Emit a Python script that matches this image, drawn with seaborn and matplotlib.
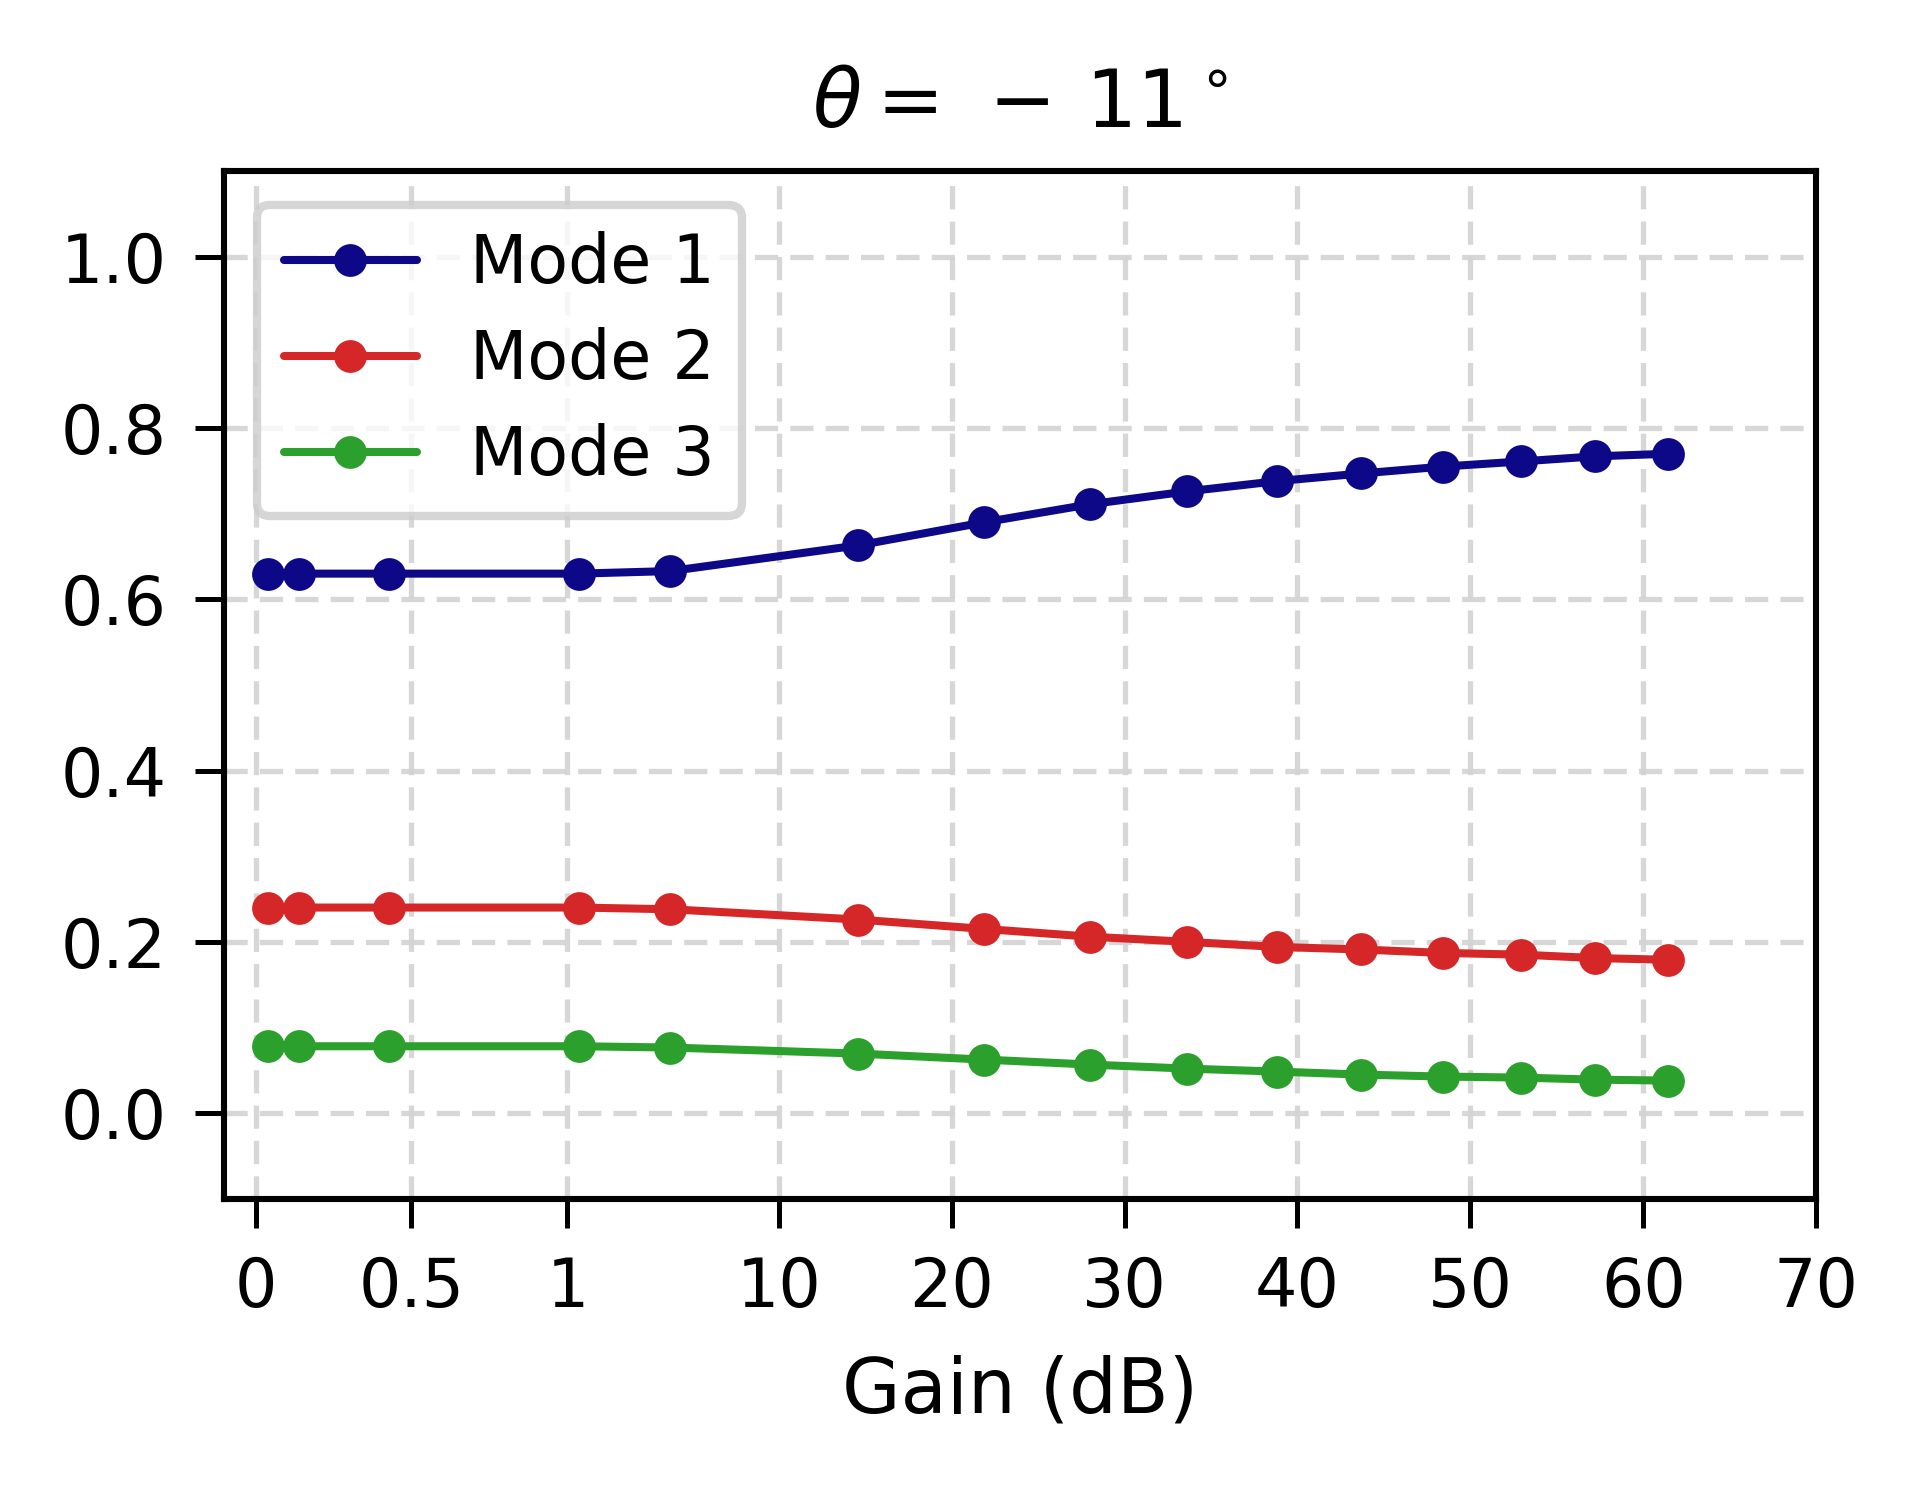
import numpy as np
import pandas as pd
import matplotlib
matplotlib.use("Agg")
import matplotlib.pyplot as plt
import seaborn as sns
from matplotlib.lines import Line2D

# ---- data ----
gain_db = [0.04, 0.14, 0.43, 1.48, 5.39, 14.6, 21.9, 28.0, 33.6, 38.8, 43.7, 48.4, 52.9, 57.2, 61.4]
mode1 = [0.630, 0.630, 0.630, 0.630, 0.633, 0.663, 0.690, 0.711, 0.726, 0.738, 0.747, 0.755, 0.761, 0.767, 0.770]
mode2 = [0.240, 0.240, 0.240, 0.240, 0.238, 0.226, 0.215, 0.206, 0.200, 0.194, 0.191, 0.187, 0.185, 0.181, 0.179]
mode3 = [0.078, 0.078, 0.078, 0.078, 0.0765, 0.0694, 0.0624, 0.0566, 0.0519, 0.0484, 0.0449, 0.0426, 0.0414, 0.039, 0.0379]
mode_names = ["Mode 1", "Mode 2", "Mode 3"]
colors = ["#0d0887", "#d62728", "#2ca02c"]
xticks = [0, 0.5, 1, 10, 20, 30, 40, 50, 60, 70]
xticklabels = ["0", "0.5", "1", "10", "20", "30", "40", "50", "60", "70"]
yticks = [0.0, 0.2, 0.4, 0.6, 0.8, 1.0]

df = pd.DataFrame({
    "gain": gain_db * 3,
    "value": mode1 + mode2 + mode3,
    "mode": [m for m in mode_names for _ in gain_db],
})

# piecewise-linear x scale
XB = np.array([0.0, 0.5, 1.0, 10.0, 70.0])
PB = np.array([0.0, 0.898, 1.800, 3.020, 9.014])
s0 = (PB[1] - PB[0]) / (XB[1] - XB[0])
s1 = (PB[-1] - PB[-2]) / (XB[-1] - XB[-2])

def fwd(x):
    x = np.asarray(x, dtype=float)
    y = np.interp(x, XB, PB)
    y = np.where(x < XB[0], PB[0] + (x - XB[0]) * s0, y)
    y = np.where(x > XB[-1], PB[-1] + (x - XB[-1]) * s1, y)
    return y

def inv(p):
    p = np.asarray(p, dtype=float)
    x = np.interp(p, PB, XB)
    x = np.where(p < PB[0], XB[0] + (p - PB[0]) / s0, x)
    x = np.where(p > PB[-1], XB[-1] + (p - PB[-1]) / s1, x)
    return x

sns.set_style("ticks")
plt.rcParams["font.family"] = ["DejaVu Sans"]
plt.rcParams["mathtext.fontset"] = "dejavusans"
for k in ["text.color", "axes.labelcolor", "xtick.color", "ytick.color", "axes.edgecolor"]:
    plt.rcParams[k] = "black"

fig = plt.figure(figsize=(1917 / 400, 1489 / 400), dpi=400)
ax = fig.add_axes([0.1167, 0.195, 0.9475 - 0.1167, 0.885 - 0.195])
ax.set_xscale("function", functions=(fwd, inv))

LW = 1.45
MS = 5.9
sns.lineplot(data=df, x="gain", y="value", hue="mode", palette=colors,
             marker="o", markersize=MS, markeredgewidth=0, linewidth=LW,
             ax=ax, legend=False, zorder=3)

ax.set_xlim(-0.103, 70)
ax.set_ylim(-0.1, 1.1)
ax.set_xticks(xticks)
ax.set_xticklabels(xticklabels)
ax.minorticks_off()
ax.set_yticks(yticks)
ax.set_yticklabels([f"{v:.1f}" for v in yticks])
ax.tick_params(axis="both", labelsize=12, length=5.2, width=0.9, color="black",
               labelcolor="black")
ax.tick_params(axis="y", pad=5.1)
ax.tick_params(axis="x", pad=5)
for s in ax.spines.values():
    s.set_linewidth(1.1)
    s.set_color("black")
ax.grid(True, linestyle=(0, (4.4, 2.3)), color="#d3d3d3", linewidth=0.95, alpha=0.9)
ax.set_axisbelow(True)

ax.set_xlabel("Gain (dB)", fontsize=13.6, labelpad=6, color="black")
ax.set_ylabel("")
ax.set_title(r"$\theta =\,-\,11^\circ$", fontsize=14.5, pad=8, color="black")

handles = [Line2D([0], [0], color=c, marker="o", markersize=MS, markeredgewidth=0, linewidth=LW)
           for c in colors]
leg = ax.legend(handles, mode_names, loc="upper left", fontsize=12,
                frameon=True, framealpha=0.8, edgecolor="#cccccc",
                labelspacing=0.45, handlelength=2.0)
leg.get_frame().set_linewidth(1.5)
for t in leg.get_texts():
    t.set_color("black")

fig.savefig("out.png", dpi=400)
